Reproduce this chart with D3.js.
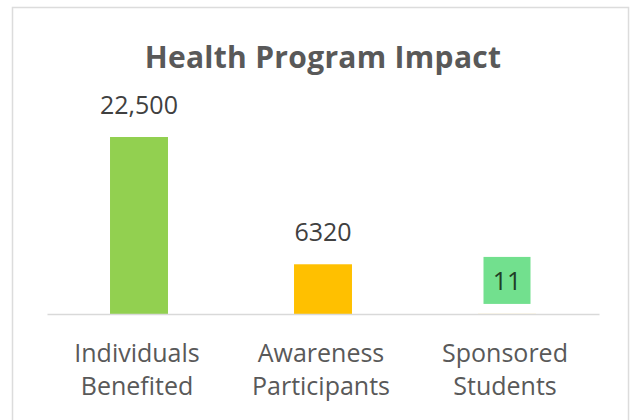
<!doctype html>
<html>
<head>
  <title>Health Program Impact</title>
  <script src="https://d3js.org/d3.v7.min.js"></script>
  <style>
    body { margin: 0; background: #fff; }
    text { font-family: "Open Sans", "Noto Sans", sans-serif; }
  </style>
</head>
<body>
  <svg width="632" height="420"></svg>
  <script>
    // chart data
    var categories = ["Individuals Benefited", "Awareness Participants", "Sponsored Students"]
    var catLines = [["Individuals", "Benefited"], ["Awareness", "Participants"], ["Sponsored", "Students"]]
    var values = [22500, 6320, 11]
    var valueLabels = ["22,500", "6320", "11"]
    var barColors = ["#92d050", "#ffc000", "#ffc000"]

    var svg = d3.select("svg")

    // chart frame
    svg.append("rect")
      .attr("x", 12.5).attr("y", 7.5)
      .attr("width", 616).attr("height", 420)
      .attr("fill", "#fff")
      .attr("stroke", "#dcdcdc")
      .attr("stroke-width", 1.5)

    svg.append("text")
      .attr("x", 323).attr("y", 68)
      .attr("text-anchor", "middle")
      .attr("font-size", "30px")
      .attr("font-weight", "bold")
      .attr("letter-spacing", "0.3px")
      .attr("fill", "#595959")
      .text("Health Program Impact")

    var x = d3.scaleBand()
      .domain(categories)
      .range([47, 599])
      .paddingInner(0.685)
      .paddingOuter(0.3425)

    var y = d3.scaleLinear()
      .domain([0, 22500])
      .range([314, 137])

    svg.selectAll(".bar")
      .data(values)
      .enter()
      .append("rect")
      .attr("class", "bar")
      .attr("x", function(d, i) { return x(categories[i]) })
      .attr("width", x.bandwidth())
      .attr("y", function(d) { return y(d) })
      .attr("height", function(d) { return y(0) - y(d) })
      .attr("fill", function(d, i) { return barColors[i] })

    // x axis line
    var xAxis = d3.axisBottom(x).tickSize(0).tickFormat("")
    var gx = svg.append("g")
      .attr("transform", "translate(0," + y(0) + ")")
      .call(xAxis)
    gx.select(".domain").attr("stroke", "#d9d9d9").attr("stroke-width", 1.5)

    // category labels (two lines)
    catLines.forEach(function(lines, i) {
      var cx = x(categories[i]) + x.bandwidth() / 2 - 2
      lines.forEach(function(t, j) {
        svg.append("text")
          .attr("x", cx)
          .attr("y", 362 + j * 33)
          .attr("text-anchor", "middle")
          .attr("font-size", "25px")
          .attr("fill", "#595959")
          .text(t)
      })
    })

    // value labels
    values.forEach(function(v, i) {
      var cx = x(categories[i]) + x.bandwidth() / 2
      if (i == 2) {
        // small value: shown in a filled label box
        svg.append("rect")
          .attr("x", cx - 23.5)
          .attr("y", y(v) - 57)
          .attr("width", 47)
          .attr("height", 47)
          .attr("fill", "#72e08e")
        svg.append("text")
          .attr("x", cx)
          .attr("y", y(v) - 24)
          .attr("text-anchor", "middle")
          .attr("font-size", "25px")
          .attr("fill", "#1f3d26")
          .text(valueLabels[i])
      } else {
        svg.append("text")
          .attr("x", cx)
          .attr("y", y(v) - 23)
          .attr("text-anchor", "middle")
          .attr("font-size", "25px")
          .attr("fill", "#404040")
          .text(valueLabels[i])
      }
    })
  </script>
</body>
</html>
